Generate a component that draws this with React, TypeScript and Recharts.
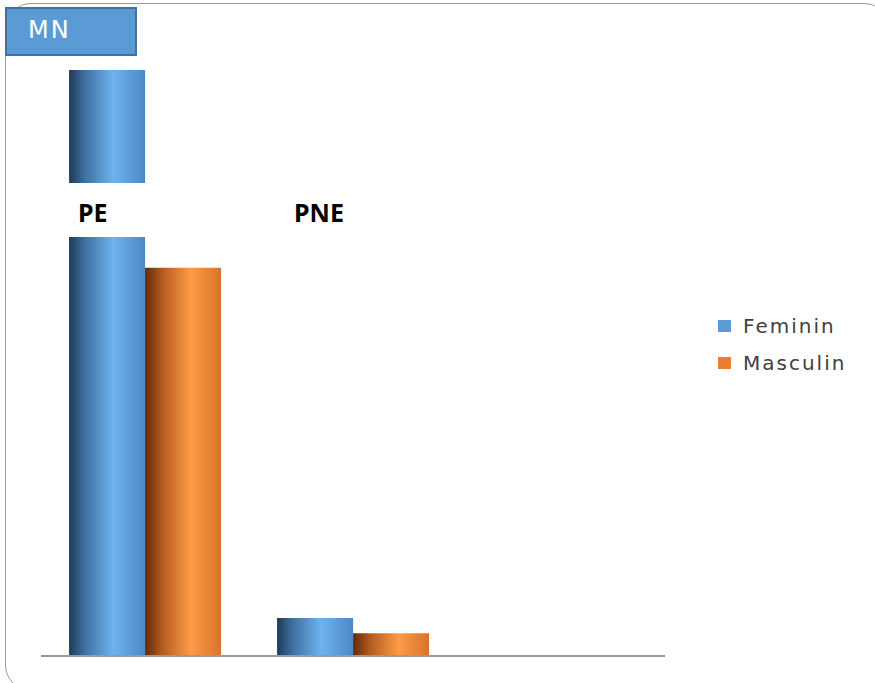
import React from "react";
import { BarChart, Bar, XAxis, YAxis, Legend, LabelList } from "recharts";

// Categories and counts per sex
const categories = ["PE", "PNE", ""];
const feminin = [77, 5, null];
const masculin = [51, 3, null];
const seriesNames = ["Feminin", "Masculin"];

const data = categories.map((name, i) => ({
  name,
  Feminin: feminin[i],
  Masculin: masculin[i],
}));

const W = 875;
const H = 683;

// horizontal nudge of each category caption from its first bar's left edge
const CAPTION_SHIFT = [9, 17];

const renderCaption = (props: any) => {
  const { x, y, height, index, value } = props;
  if (!value) return null;
  const bottom = Number(y) + Number(height);
  const baseline = bottom - 434;
  const bx = Number(x);
  return (
    <g>
      <rect x={bx - 6} y={baseline - 39} width={90} height={54} fill="#ffffff" />
      <text
        x={bx + (CAPTION_SHIFT[index] ?? 10)}
        y={baseline}
        fill="#000"
        fontFamily="'Noto Sans', sans-serif"
        fontWeight={700}
        fontSize={25}
        textAnchor="start"
      >
        {value}
      </text>
    </g>
  );
};

const legendColors = ["#5b9bd5", "#ed7d31"];

const renderLegend = () => (
  <div>
    {seriesNames.map((n, i) => (
      <div
        key={n}
        style={{
          display: "flex",
          alignItems: "center",
          height: 37,
          fontFamily: "'DejaVu Sans', sans-serif",
          fontSize: 20,
          letterSpacing: 2,
          color: "#404040",
          whiteSpace: "nowrap",
        }}
      >
        <span
          style={{
            display: "inline-block",
            width: 13,
            height: 12,
            background: legendColors[i],
            marginRight: 12,
          }}
        />
        {n}
      </div>
    ))}
  </div>
);

export default function App() {
  return (
    <div
      style={{
        position: "absolute",
        left: 0,
        top: 0,
        width: W,
        height: H,
        overflow: "hidden",
        background: "#fff",
      }}
    >
      {/* rounded frame */}
      <div
        style={{
          position: "absolute",
          left: 5,
          top: 3,
          width: 885,
          height: 688,
          border: "1.5px solid #9a9a9a",
          borderRadius: 26,
          boxSizing: "border-box",
        }}
      />
      {/* title tab */}
      <div
        style={{
          position: "absolute",
          left: 5,
          top: 7,
          width: 132,
          height: 49,
          background: "#5b9bd5",
          border: "2px solid #41719c",
          boxSizing: "border-box",
          color: "#ffffff",
          fontFamily: "'DejaVu Sans', sans-serif",
          fontSize: 24,
          letterSpacing: 2,
          paddingLeft: 21,
          lineHeight: "42px",
          zIndex: 2,
        }}
      >
        MN
      </div>
      <div style={{ position: "absolute", left: 0, top: 0, zIndex: 1 }}>
        <BarChart
          width={W}
          height={H}
          data={data}
          margin={{ top: 70, right: 60, bottom: 26, left: 41 }}
          barCategoryGap="13.5%"
          barGap={0}
        >
          <defs>
            <linearGradient id="gradBlue" x1="0" y1="0" x2="1" y2="0">
              <stop offset="0%" stopColor="#1f3a56" />
              <stop offset="20%" stopColor="#3d6f9f" />
              <stop offset="58%" stopColor="#6db3ef" />
              <stop offset="100%" stopColor="#4b89c6" />
            </linearGradient>
            <linearGradient id="gradOrange" x1="0" y1="0" x2="1" y2="0">
              <stop offset="0%" stopColor="#5c2a0c" />
              <stop offset="22%" stopColor="#b35a20" />
              <stop offset="60%" stopColor="#ff9a45" />
              <stop offset="100%" stopColor="#d9732a" />
            </linearGradient>
          </defs>
          <XAxis
            dataKey="name"
            height={1}
            tick={false}
            tickLine={false}
            axisLine={{ stroke: "#9a9a9a", strokeWidth: 2 }}
          />
          <YAxis hide domain={[0, 77]} />
          <Legend
            layout="vertical"
            align="right"
            verticalAlign="top"
            content={renderLegend}
            wrapperStyle={{ position: "absolute", left: 718, top: 307, width: 150 }}
          />
          <Bar dataKey="Feminin" fill="url(#gradBlue)" isAnimationActive={false}>
            <LabelList dataKey="name" content={renderCaption} />
          </Bar>
          <Bar dataKey="Masculin" fill="url(#gradOrange)" isAnimationActive={false} />
        </BarChart>
      </div>
    </div>
  );
}
